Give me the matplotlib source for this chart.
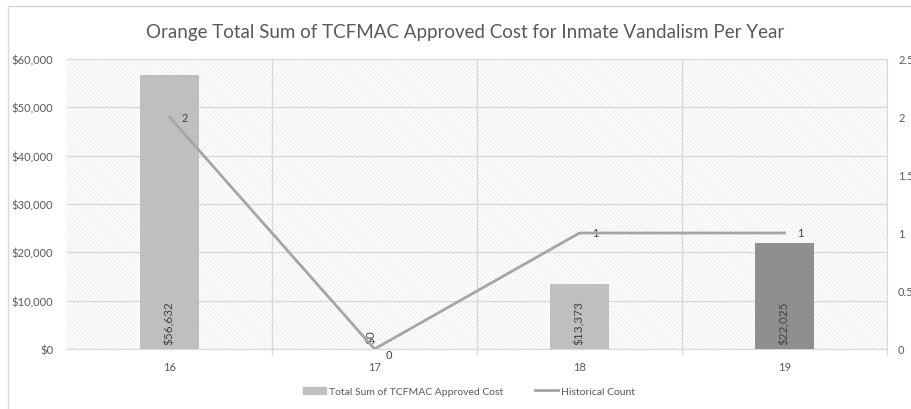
import matplotlib.pyplot as plt
from matplotlib.patches import Rectangle
from matplotlib.lines import Line2D
from matplotlib.ticker import FuncFormatter, MultipleLocator

years = ['16', '17', '18', '19']
cost = [56632, 0, 13373, 22025]
count = [2, 0, 1, 1]
bar_colors = ['#BFBFBF', '#BFBFBF', '#BFBFBF', '#8F8F8F']

plt.rcParams['font.family'] = ['Lato', 'DejaVu Sans']
plt.rcParams['hatch.linewidth'] = 0.5
plt.rcParams['hatch.color'] = '#E6E6E6'

txt = '#595959'
grid = '#D9D9D9'

fig = plt.figure(figsize=(9.11, 4.10), dpi=100)
fig.patches.append(Rectangle((8 / 911, -0.1), 2, 1.1 - 7 / 410, transform=fig.transFigure,
                             fill=False, edgecolor='#D9D9D9', linewidth=1))
ax = fig.add_axes([67 / 911, 60 / 410, 820 / 911, 290 / 410])
ax.set_facecolor('white')
x = list(range(len(years)))

# hatched plot background
bg = Rectangle((0, 0), 1, 1, transform=ax.transAxes, facecolor='white',
               hatch='\\' * 8, edgecolor='#E6E6E6', linewidth=0, zorder=0)
ax.add_patch(bg)

ax.bar(x, cost, width=0.285, color=bar_colors, zorder=3)
ax.set_xlim(-0.5, 3.5)
ax.set_ylim(0, 60000)
ax.yaxis.set_major_locator(MultipleLocator(10000))
ax.yaxis.set_major_formatter(FuncFormatter(lambda v, p: '${:,.0f}'.format(v)))
ax.set_xticks(x)
ax.set_xticklabels(years)
ax.set_xticks([0.5, 1.5, 2.5, 3.5], minor=True)
ax.tick_params(axis='x', which='major', length=0, pad=9, labelsize=8, labelcolor=txt)
ax.tick_params(axis='x', which='minor', length=4, color=grid, width=1)
ax.tick_params(axis='y', length=0, pad=10, labelsize=8, labelcolor=txt)
ax.grid(axis='y', color=grid, linewidth=1, zorder=1)
ax.grid(axis='x', which='minor', color=grid, linewidth=1, zorder=1)
ax.set_axisbelow(True)
for s in ['top', 'left']:
    ax.spines[s].set_visible(False)
ax.spines['right'].set_color(grid)
ax.spines['bottom'].set_color(grid)

for xi, v in zip(x, cost):
    ax.text(xi - (0.015 if v == 0 else 0), 1000 if v > 0 else 1200, '${:,.0f}'.format(v),
            rotation=90, ha='center', va='bottom', fontsize=8.5, color='#404040', zorder=5)

ax2 = ax.twinx()
ax2.plot(x, count, color='#A5A5A5', linewidth=2, zorder=4)
ax2.set_ylim(0, 2.5)
ax2.yaxis.set_major_locator(MultipleLocator(0.5))
ax2.yaxis.set_major_formatter(FuncFormatter(lambda v, p: '{:g}'.format(v)))
ax2.tick_params(axis='y', length=0, pad=8, labelsize=8, labelcolor=txt)
for s in ax2.spines.values():
    s.set_visible(False)
for xi, c in zip(x, count):
    if c == 0:
        ax2.annotate(str(c), (xi, c), xytext=(8, 0), textcoords='offset points',
                     ha='left', va='top', fontsize=8, color='#404040')
    else:
        ax2.annotate(str(c), (xi, c), xytext=(9, 0), textcoords='offset points',
                     ha='left', va='center', fontsize=8, color='#404040')

fig.text(0.511, 0.92, 'Orange Total Sum of TCFMAC Approved Cost for Inmate Vandalism Per Year',
         ha='center', va='center', fontsize=13.5, color=txt)

handles = [Rectangle((0, 0), 1, 1, color='#BFBFBF'),
           Line2D([0], [0], color='#A5A5A5', linewidth=2)]
fig.legend(handles, ['Total Sum of TCFMAC Approved Cost', 'Historical Count'],
           loc='center', bbox_to_anchor=(0.515, 0.043), ncol=2, frameon=False,
           fontsize=7.5, labelcolor=txt, handlelength=2.2, handleheight=0.6,
           handletextpad=0.3, columnspacing=3.0)

fig.savefig('out.png', dpi=100)
